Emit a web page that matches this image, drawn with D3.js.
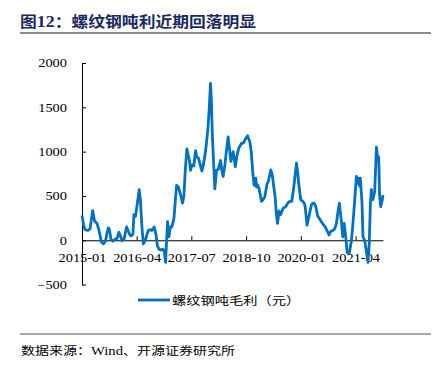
<!DOCTYPE html>
<html>
<head>
<meta charset="utf-8">
<script src="https://cdn.jsdelivr.net/npm/d3@7"></script>
<style>
  body { margin: 0; background: #fff; }
  svg { display: block; }
  .serif { font-family: 'Liberation Serif', 'Times New Roman', 'DejaVu Serif', serif; }
  .cjk { font-family: 'Noto Sans CJK SC', sans-serif; }
</style>
</head>
<body>
<svg width="439" height="366"></svg>
<script>
  // weekly-ish readings of rebar gross profit per ton (yuan)
  var dates = [
    '2015-01-01','2015-01-13','2015-01-26','2015-02-20','2015-03-09','2015-03-31','2015-04-15','2015-05-06',
    '2015-05-23','2015-06-12','2015-06-29','2015-07-16','2015-07-28','2015-08-08','2015-08-18','2015-08-31',
    '2015-09-16','2015-10-03','2015-10-20','2015-11-05','2015-11-18','2015-11-30','2015-12-17','2016-01-08',
    '2016-01-23','2016-02-05','2016-02-17','2016-03-01','2016-03-09','2016-03-22','2016-04-07','2016-04-22',
    '2016-05-02','2016-05-15','2016-05-27','2016-06-09','2016-06-21','2016-07-06','2016-07-21','2016-08-06',
    '2016-08-25','2016-09-09','2016-09-21','2016-10-04','2016-10-20','2016-11-06','2016-11-18','2016-11-28',
    '2016-12-05','2016-12-15','2016-12-26','2017-01-07','2017-01-20','2017-02-06','2017-02-18','2017-02-28',
    '2017-03-15','2017-04-01','2017-04-19','2017-04-30','2017-05-12','2017-05-25','2017-06-02','2017-06-15',
    '2017-06-25','2017-07-06','2017-07-22','2017-08-05','2017-08-16','2017-08-29','2017-09-10','2017-09-27',
    '2017-10-09','2017-10-22','2017-11-03','2017-11-16','2017-11-28','2017-12-08','2017-12-15','2017-12-23',
    '2018-01-02','2018-01-13','2018-01-27','2018-02-11','2018-03-02','2018-03-11','2018-03-23','2018-04-07',
    '2018-04-19','2018-05-04','2018-05-14','2018-05-27','2018-06-15','2018-07-03','2018-07-16','2018-08-01',
    '2018-08-24','2018-09-08','2018-09-20','2018-10-13','2018-11-01','2018-11-13','2018-11-26','2018-12-07',
    '2018-12-21','2018-12-28','2019-01-07','2019-01-17','2019-02-06','2019-02-17','2019-03-06','2019-03-25',
    '2019-04-04','2019-04-25','2019-05-07','2019-05-20','2019-06-01','2019-06-10','2019-06-20','2019-07-03',
    '2019-07-17','2019-08-05','2019-08-28','2019-09-14','2019-09-30','2019-10-17','2019-11-03','2019-11-25',
    '2019-12-06','2019-12-14','2019-12-31','2020-01-17','2020-01-29','2020-02-06','2020-02-21','2020-03-07',
    '2020-03-29','2020-04-09','2020-04-21','2020-05-04','2020-05-21','2020-06-06','2020-06-20','2020-07-10',
    '2020-07-22','2020-08-06','2020-08-23','2020-09-06','2020-09-25','2020-10-09','2020-10-22','2020-11-03',
    '2020-11-17','2020-12-04','2020-12-15','2020-12-27','2021-01-09','2021-01-21','2021-02-07','2021-02-24',
    '2021-03-08','2021-03-25','2021-04-08','2021-04-19','2021-04-27','2021-05-06','2021-05-11','2021-05-25',
    '2021-06-02','2021-06-16','2021-06-30','2021-07-14','2021-07-24','2021-08-03','2021-08-11','2021-08-24',
    '2021-09-08','2021-09-22','2021-10-05','2021-10-11','2021-10-19','2021-10-28','2021-11-09','2021-11-16'
  ];
  var profit = [
    280, 180, 120, 110, 130, 335, 220, 190,
    110, -20, -40, -10, 80, 140, 120, 10,
    -10, 10, 20, 90, 50, -5, 10, 150,
    100, 60, 50, 70, 290, 270, 420, 570,
    460, 150, -40, -10, 40, 110, 120, 110,
    150, 70, -60, -100, -110, -100, -130, -250,
    -50, 210, 40, 150, 150, 250, 450, 620,
    600, 520, 420, 500, 800, 1030, 980, 900,
    790, 850, 840, 1010, 940, 930, 870, 780,
    850, 950, 1080, 1250, 1500, 1770, 1600, 1200,
    900, 580, 790, 800, 900, 800, 720, 850,
    1000, 1165, 1050, 890, 1000, 830, 950, 1040,
    1095, 1095, 1130, 1180, 1110, 1000, 760, 620,
    700, 600, 620, 585, 440, 455, 490, 640,
    660, 795, 740, 600, 480, 300, 190, 330,
    290, 360, 380, 420, 440, 440, 600, 870,
    760, 640, 455, 440, 420, 380, 170, 260,
    400, 420, 420, 380, 270, 240, 210, 170,
    150, 110, 60, 100, 110, 130, 180, 300,
    420, 210, 40, 190, 40, -140, -150, -20,
    150, 450, 720, 640, 700, 610, 700, 420,
    40, 0, -120, -250, -50, 420, 570, 460,
    550, 1050, 900, 940, 490, 380, 450, 510
  ];
  var xTicks = ['2015-01', '2016-04', '2017-07', '2018-10', '2020-01', '2021-04'];
  var yTicks = [-500, 0, 500, 1000, 1500, 2000];
  var xStart = '2015-01-01', xEnd = '2021-11-16';

  var title = '图12：';
  var titleRest = '螺纹钢吨利近期回落明显';
  var seriesName = '螺纹钢吨毛利（元）';
  var source = '数据来源：Wind、开源证券研究所';

  var svg = d3.select('svg');
  var parse = d3.timeParse('%Y-%m-%d');
  var parseMonth = d3.timeParse('%Y-%m');
  var sx = 1.2; // the source image is stretched sideways

  var data = dates.map(function (d, i) { return { date: parse(d), value: profit[i] }; });

  var x = d3.scaleTime()
    .domain([parse(xStart), parse(xEnd)])
    .range([82, 383]);
  var y = d3.scaleLinear()
    .domain([-500, 2000])
    .range([284.6, 63]);

  // title
  var tg = svg.append('g').attr('transform', 'translate(20,27) scale(1.12,1)');
  var t1 = tg.append('text')
    .attr('x', 0).attr('y', 0)
    .style('font-weight', 700).style('font-size', '15px')
    .attr('fill', '#1b2a5c');
  t1.append('tspan').attr('class', 'cjk').text(title.slice(0, 1));
  t1.append('tspan').attr('class', 'serif').style('font-size', '16px').text(title.slice(1, 3));
  t1.append('tspan').attr('class', 'cjk').text(title.slice(3));
  tg.append('text')
    .attr('class', 'cjk')
    .attr('x', 46).attr('y', 0)
    .style('font-weight', 700).style('font-size', '15px')
    .attr('fill', '#1b2a5c')
    .text(titleRest);

  svg.append('line')
    .attr('x1', 20).attr('x2', 431).attr('y1', 33).attr('y2', 33)
    .attr('stroke', '#8c8c8c').attr('stroke-width', 2);

  // y axis
  var yAxis = svg.append('g')
    .attr('transform', 'translate(' + x.range()[0] + ',0)')
    .call(d3.axisLeft(y).tickValues(yTicks).tickFormat(d3.format('d'))
      .tickSizeInner(-4).tickSizeOuter(0).tickPadding(15));
  yAxis.attr('font-family', null);
  yAxis.selectAll('text')
    .attr('class', 'serif').style('font-size', '12px').attr('fill', '#000')
    .attr('x', -15 / sx)
    .attr('transform', 'scale(' + sx + ',1)');
  yAxis.selectAll('line, path').attr('stroke', '#000');

  // x axis on the zero line
  var xAxis = svg.append('g')
    .attr('transform', 'translate(0,' + y(0) + ')')
    .call(d3.axisBottom(x)
      .tickValues(xTicks.map(parseMonth))
      .tickFormat(d3.timeFormat('%Y-%m'))
      .tickSizeInner(-4).tickSizeOuter(0).tickPadding(13));
  xAxis.attr('font-family', null);
  xAxis.selectAll('text')
    .attr('class', 'serif').style('font-size', '12px').attr('fill', '#000')
    .attr('transform', 'scale(' + sx + ',1)');
  xAxis.selectAll('line, path').attr('stroke', '#000');

  // series
  var line = d3.line()
    .x(function (d) { return x(d.date); })
    .y(function (d) { return y(d.value); });

  svg.append('path')
    .datum(data)
    .attr('d', line)
    .attr('fill', 'none')
    .attr('stroke', '#0070c0')
    .attr('stroke-width', 2.8)
    .attr('stroke-linejoin', 'round');

  // legend
  svg.append('line')
    .attr('x1', 138).attr('x2', 170).attr('y1', 300).attr('y2', 300)
    .attr('stroke', '#0070c0').attr('stroke-width', 2.8);
  svg.append('g')
    .attr('transform', 'translate(172,305) scale(1.24,1)')
    .append('text')
    .attr('class', 'cjk').style('font-size', '11.5px').attr('fill', '#000')
    .text(seriesName);

  // source
  svg.append('line')
    .attr('x1', 20).attr('x2', 431).attr('y1', 334).attr('y2', 334)
    .attr('stroke', '#8c8c8c').attr('stroke-width', 1.5);
  var src = svg.append('g')
    .attr('transform', 'translate(21,355) scale(1.22,1)')
    .append('text')
    .attr('class', 'cjk').style('font-size', '11.5px').attr('fill', '#000');
  src.append('tspan').text(source.slice(0, 5));
  src.append('tspan').attr('class', 'serif').style('font-size', '12px').text(source.slice(5, 9));
  src.append('tspan').text(source.slice(9));
</script>
</body>
</html>
